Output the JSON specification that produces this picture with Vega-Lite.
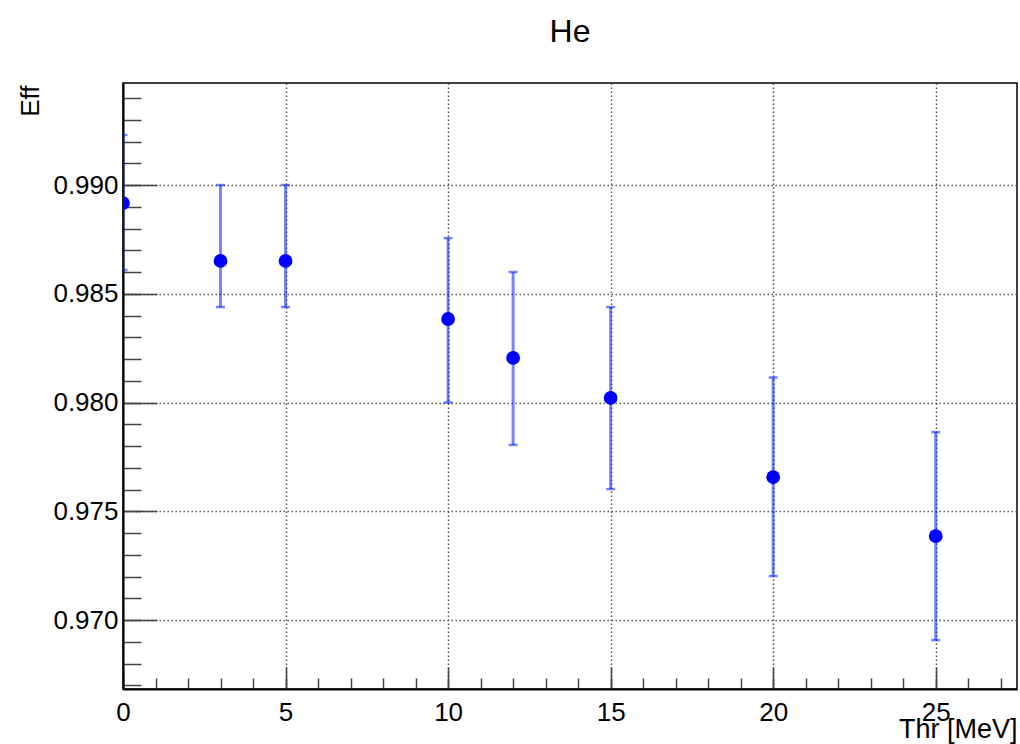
{
  "$schema": "https://vega.github.io/schema/vega-lite/v6.json",
  "autosize": "none",
  "width": 894,
  "height": 606,
  "padding": {"left": 123, "top": 83, "right": 3, "bottom": 55},
  "background": "white",
  "title": {"text": "He", "font": "Liberation Sans", "fontSize": 32, "fontWeight": "normal", "color": "black", "anchor": "middle", "baseline": "alphabetic", "offset": 9},
  "config": {
    "view": {"stroke": "black", "strokeWidth": 1.5},
    "font": "Liberation Sans"
  },
  "data": {"values": [
    {"thr": 0, "eff": 0.98917, "lo": 0.98609, "hi": 0.99230},
    {"thr": 3, "eff": 0.98651, "lo": 0.98439, "hi": 0.99000},
    {"thr": 5, "eff": 0.98651, "lo": 0.98439, "hi": 0.99000},
    {"thr": 10, "eff": 0.98384, "lo": 0.98000, "hi": 0.98756},
    {"thr": 12, "eff": 0.98205, "lo": 0.97805, "hi": 0.98600},
    {"thr": 15, "eff": 0.98021, "lo": 0.97602, "hi": 0.98439},
    {"thr": 20, "eff": 0.97657, "lo": 0.97202, "hi": 0.98115},
    {"thr": 25, "eff": 0.97386, "lo": 0.96908, "hi": 0.97864}
  ]},
  "resolve": {"axis": {"x": "independent", "y": "independent"}},
  "layer": [
    {
      "mark": {"type": "rule", "color": "#0022ff", "opacity": 0.55, "strokeWidth": 3, "clip": true},
      "encoding": {
        "x": {"field": "thr", "type": "quantitative", "scale": {"domain": [0, 27.5], "nice": false, "zero": false},
          "axis": {"orient": "bottom", "values": [0,1,2,3,4,5,6,7,8,9,10,11,12,13,14,15,16,17,18,19,20,21,22,23,24,25,26,27], "tickSize": -11, "tickColor": "#444", "tickWidth": 1.5, "labels": false, "grid": false, "domain": false, "title": null}},
        "y": {"field": "lo", "type": "quantitative", "scale": {"domain": [0.96683, 0.99469], "nice": false, "zero": false},
          "axis": {"orient": "left", "values": [0.967,0.968,0.969,0.970,0.971,0.972,0.973,0.974,0.975,0.976,0.977,0.978,0.979,0.980,0.981,0.982,0.983,0.984,0.985,0.986,0.987,0.988,0.989,0.990,0.991,0.992,0.993,0.994], "tickSize": -18, "tickColor": "#444", "tickWidth": 1.5, "labels": false, "grid": false, "domain": false, "title": null}},
        "y2": {"field": "hi"}
      }
    },
    {
      "mark": {"type": "tick", "orient": "horizontal", "size": 9, "thickness": 2.5, "color": "#0022ff", "opacity": 0.55, "clip": true},
      "encoding": {
        "x": {"field": "thr", "type": "quantitative", "axis": null},
        "y": {"field": "hi", "type": "quantitative", "axis": null}
      }
    },
    {
      "mark": {"type": "tick", "orient": "horizontal", "size": 9, "thickness": 2.5, "color": "#0022ff", "opacity": 0.55, "clip": true},
      "encoding": {
        "x": {"field": "thr", "type": "quantitative", "axis": null},
        "y": {"field": "lo", "type": "quantitative", "axis": null}
      }
    },
    {
      "mark": {"type": "point", "shape": "circle", "filled": true, "size": 190, "color": "#0000ff", "opacity": 1, "clip": true},
      "encoding": {
        "x": {"field": "thr", "type": "quantitative", "title": "Thr [MeV]",
          "axis": {"orient": "bottom", "values": [0, 5, 10, 15, 20, 25], "tickSize": -22, "tickColor": "#444", "tickWidth": 1.5, "labelPadding": 32, "labelFontSize": 26, "labelColor": "black", "labelFont": "Liberation Sans", "labelBaseline": "top", "labelFlush": false,
            "grid": true, "gridColor": "#555", "gridDash": [1.5, 2.5], "gridWidth": 1.5,
            "domainColor": "black", "domainWidth": 2,
            "titleFontSize": 27, "titleFont": "Liberation Sans", "titleFontWeight": "normal", "titleColor": "black", "titleAlign": "right", "titleBaseline": "alphabetic", "titleAnchor": null, "titleX": 894, "titleY": 48}},
        "y": {"field": "eff", "type": "quantitative", "title": "Eff",
          "axis": {"orient": "left", "values": [0.970, 0.975, 0.980, 0.985, 0.990], "format": ".3f", "tickSize": -34, "tickColor": "#444", "tickWidth": 1.5, "labelPadding": 39, "labelFontSize": 26, "labelColor": "black", "labelFont": "Liberation Sans",
            "grid": true, "gridColor": "#555", "gridDash": [1.5, 2.5], "gridWidth": 1.5,
            "domainColor": "black", "domainWidth": 2,
            "titleFontSize": 26, "titleFont": "Liberation Sans", "titleFontWeight": "normal", "titleColor": "black", "titleAngle": -90, "titleAlign": "right", "titleBaseline": "alphabetic", "titleAnchor": null, "titleX": -85, "titleY": 2}}
      }
    }
  ]
}
